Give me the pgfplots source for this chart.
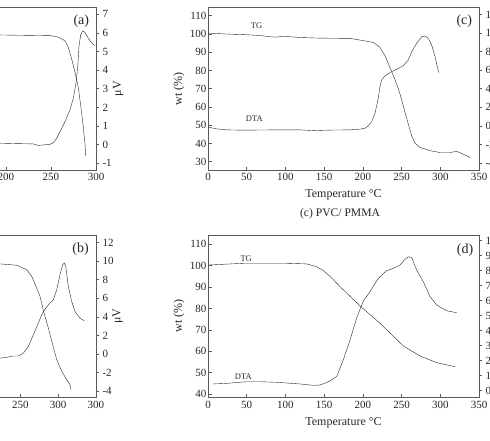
\documentclass[border=0pt]{standalone}
\usepackage{pgfplots}
\pgfplotsset{compat=1.18}
\usepackage{fontspec}
\setmainfont{Liberation Serif}

\definecolor{ink}{gray}{0.15}
\definecolor{frame}{gray}{0.35}

\tikzset{
  plab/.style={font=\fontsize{14}{14}\selectfont, text=black!85},
  clab/.style={font=\fontsize{8.5}{9}\selectfont, text=black!85},
}

\pgfplotsset{
  panel/.style={
    scale only axis,
    axis line style={frame, line width=0.6pt},
    major tick style={frame, line width=0.6pt},
    major tick length=3.5pt,
    minor tick num=0,
    tick label style={font=\fontsize{11}{12}\selectfont, text=black!85},
    label style={font=\fontsize{12}{13}\selectfont, text=black!85},
    /pgf/number format/assume math mode=true,
    cycle list={{color=ink, line width=0.75pt, no marks, smooth, tension=0.45}},
  },
  leftax/.style={
    panel, tick pos=left, tick align=inside,
    yticklabel style={xshift=2pt},
    ylabel style={at={(axis description cs:-0.107,0.5)}, anchor=center},
    xlabel style={at={(axis description cs:0.5,0)}, anchor=center, yshift=-25pt},
  },
  rightax/.style={
    panel, axis x line=none, axis y line*=right, tick align=outside,
    major tick length=3pt,
    ylabel style={at={(axis description cs:1.082,0.5)}, anchor=center},
  },
}

\begin{document}
\begin{tikzpicture}
\useasboundingbox (0pt,0pt) rectangle (490pt,-440pt);
\clip (0pt,0pt) rectangle (490pt,-440pt);

% ---------------- (a) ----------------
\begin{axis}[leftax, at={(96pt,-170pt)}, anchor=south east,
  width=270pt, height=163pt,
  xmin=0, xmax=300, xtick={0,50,...,300},
  ymin=25.5, ymax=114.8, ytick={30,40,...,110},
  xlabel={Temperature °C}, ylabel={wt (\%)}]
\addplot coordinates {(185,99.6) (193,99.5) (220,99.3) (249,99.1) (256,98.6)
  (260,97.8) (265.6,96.3) (269.2,92.7) (273,86.3) (276.7,79.0) (280.3,70.8)
  (283.3,59.8) (285.9,48.9) (287.8,39.7) (288.6,33.3)};
\node[plab] at (rel axis cs:1,1) [xshift=-14.7pt, yshift=-14.5pt] {(a)};
\end{axis}
\begin{axis}[rightax, at={(96pt,-170pt)}, anchor=south east,
  width=270pt, height=163pt,
  xmin=0, xmax=300,
  ymin=-1.36, ymax=7.39, ytick={-1,0,...,7},
  ylabel={μV}]
\addplot coordinates {(185,0.09) (193.3,0.08) (210,0.06) (230.3,0.04) (235.9,-0.04)
  (248.9,0.02) (252.6,0.11) (256.3,0.34) (260,0.70) (265.6,1.24) (271.1,1.87)
  (274.8,2.49) (277.8,3.30) (279.7,4.19) (281.1,5.27) (283,5.90) (285.2,6.11)
  (287.8,6.02) (291.4,5.72) (295.2,5.45) (298.9,5.32)};
\end{axis}

% ---------------- (b) ----------------
\begin{axis}[leftax, at={(96pt,-397.3pt)}, anchor=south east,
  width=265pt, height=162.3pt,
  xmin=0, xmax=350, xtick={0,50,...,350},
  xticklabels={0,50,100,150,200,250,300,300},
  ymin=38.5, ymax=114.3, ytick={40,50,...,110},
  ylabel={wt (\%)}]
\addplot coordinates {(210,100.8) (223.2,100.8) (245.2,100.2) (258.5,98.1)
  (265.1,95.0) (270.7,90.4) (276,85.7) (281.3,77.9) (287,70.9) (292.8,63.1)
  (298.1,56.1) (304.7,50.7) (311.3,46.7) (315.7,44.4) (317,42.1)};
\node[plab] at (rel axis cs:1,1) [xshift=-15.5pt, yshift=-14.5pt] {(b)};
\end{axis}
\begin{axis}[rightax, at={(96pt,-397.3pt)}, anchor=south east,
  width=265pt, height=162.3pt,
  xmin=0, xmax=350,
  ymin=-4.68, ymax=12.83, ytick={-4,-2,...,12},
  ylabel={μV}]
\addplot coordinates {(210,-0.5) (223.2,-0.46) (232,-0.36) (240.8,-0.22)
  (247.4,-0.22) (254,0.08) (260.6,0.80) (267.2,2.05) (273.8,3.32) (278.3,4.22)
  (282.6,4.83) (288.3,5.41) (293.6,5.84) (298.1,6.92) (302.4,8.54) (306,9.62)
  (308.1,9.81) (310,9.45) (313.4,7.29) (317.9,5.66) (322.3,4.58) (328.9,3.86)
  (334.5,3.57)};
\end{axis}

% ---------------- (c) ----------------
\begin{axis}[leftax, at={(208pt,-170pt)}, anchor=south west,
  width=271pt, height=163pt,
  xmin=0, xmax=350, xtick={0,50,...,350},
  ymin=25.5, ymax=114.8, ytick={30,40,...,110},
  xlabel={Temperature °C}, ylabel={wt (\%)}]
\addplot coordinates {(0.4,100.5) (24.1,100) (49.9,99.6) (67.2,99.2) (80.1,98.5)
  (86.5,98.3) (97.3,98.7) (105.9,98.5) (118.8,98.1) (140.4,97.8) (157.6,97.7)
  (183.4,97.6) (196.3,96.7) (213.5,95.4) (222.1,92.7) (228.6,88.1) (234.1,82.6)
  (239.3,77.2) (243.7,72.6) (248,67.1) (252.2,60.7) (255.7,55.2) (258.7,50.7)
  (263.1,44.3) (267.4,40.1) (273.8,37.9) (286.7,36.1) (299.6,35.1) (312.5,35.1)
  (321.2,35.7) (327.6,34.6) (334.1,33.3) (338.4,32.4)};
\node[plab] at (rel axis cs:1,1) [xshift=-14.7pt, yshift=-14.5pt] {(c)};
\node[clab] at (axis cs:62.6,104.8) {TG};
\node[clab] at (axis cs:59.8,53.4) {DTA};
\end{axis}
\begin{axis}[rightax, at={(208pt,-170pt)}, anchor=south west,
  width=271pt, height=163pt,
  xmin=0, xmax=350,
  ymin=-4.75, ymax=12.8, ytick={-4,-2,...,12},
  ylabel={μV}]
\addplot coordinates {(0.4,-0.14) (11.2,-0.32) (24.1,-0.43) (45.6,-0.46)
  (88.7,-0.43) (118.8,-0.43) (136,-0.51) (157.6,-0.45) (183.4,-0.43)
  (196.3,-0.35) (202.8,-0.25) (207,0) (211.4,0.46) (215.7,1.37) (219.9,2.98)
  (222.1,4.23) (224.3,4.95) (228.6,5.38) (235,5.73) (243.7,6.10) (252.2,6.48)
  (258.7,7.10) (263.1,7.99) (269.5,8.89) (276,9.60) (280.3,9.68) (284.5,9.43)
  (288.9,8.71) (293.2,7.45) (296.1,6.38) (298.3,5.73)};
\end{axis}
\node[font=\fontsize{11.6}{12}\selectfont, text=black!85] at (340pt,-214pt) {(c) PVC/ PMMA};

% ---------------- (d) ----------------
\begin{axis}[leftax, at={(208pt,-397.3pt)}, anchor=south west,
  width=271pt, height=162.3pt,
  xmin=0, xmax=350, xtick={0,50,...,350},
  ymin=38.5, ymax=114.3, ytick={40,50,...,110},
  xlabel={Temperature °C}, ylabel={wt (\%)}]
\addplot coordinates {(1.7,100.3) (24.1,100.7) (45.6,101.1) (67.2,101.1)
  (101.6,101.1) (127.5,100.8) (140.4,99.5) (148.9,97.7) (157.6,95.0)
  (170.5,90.2) (183.4,85.7) (196.3,81.2) (222.1,73.1) (252.2,62.5)
  (273.8,57.8) (295.4,54.7) (319,52.8)};
\node[plab] at (rel axis cs:1,1) [xshift=-14pt, yshift=-15pt] {(d)};
\node[clab] at (axis cs:49.3,103.2) {TG};
\node[clab] at (axis cs:45.6,48.0) {DTA};
\end{axis}
\begin{axis}[rightax, at={(208pt,-397.3pt)}, anchor=south west,
  width=271pt, height=162.3pt,
  xmin=0, xmax=350,
  ymin=-0.44, ymax=10.38, ytick={0,1,...,10},
  ylabel={μV}]
\addplot coordinates {(6.8,0.45) (24.1,0.49) (49.9,0.60) (67.2,0.60) (88.7,0.56)
  (118.8,0.45) (136,0.36) (144.6,0.38) (153.3,0.55) (157.6,0.65) (166.2,0.95)
  (174.7,2.05) (183.4,3.38) (192,4.85) (200.6,5.98) (209.2,6.60) (219.9,7.49)
  (230.8,8.0) (239.3,8.16) (248,8.38) (254.4,8.76) (258.7,8.93) (263.1,8.87)
  (269.5,8.05) (278.1,7.27) (286.7,6.27) (295.4,5.71) (308.3,5.33) (321.2,5.2)};
\end{axis}
\end{tikzpicture}
\end{document}
